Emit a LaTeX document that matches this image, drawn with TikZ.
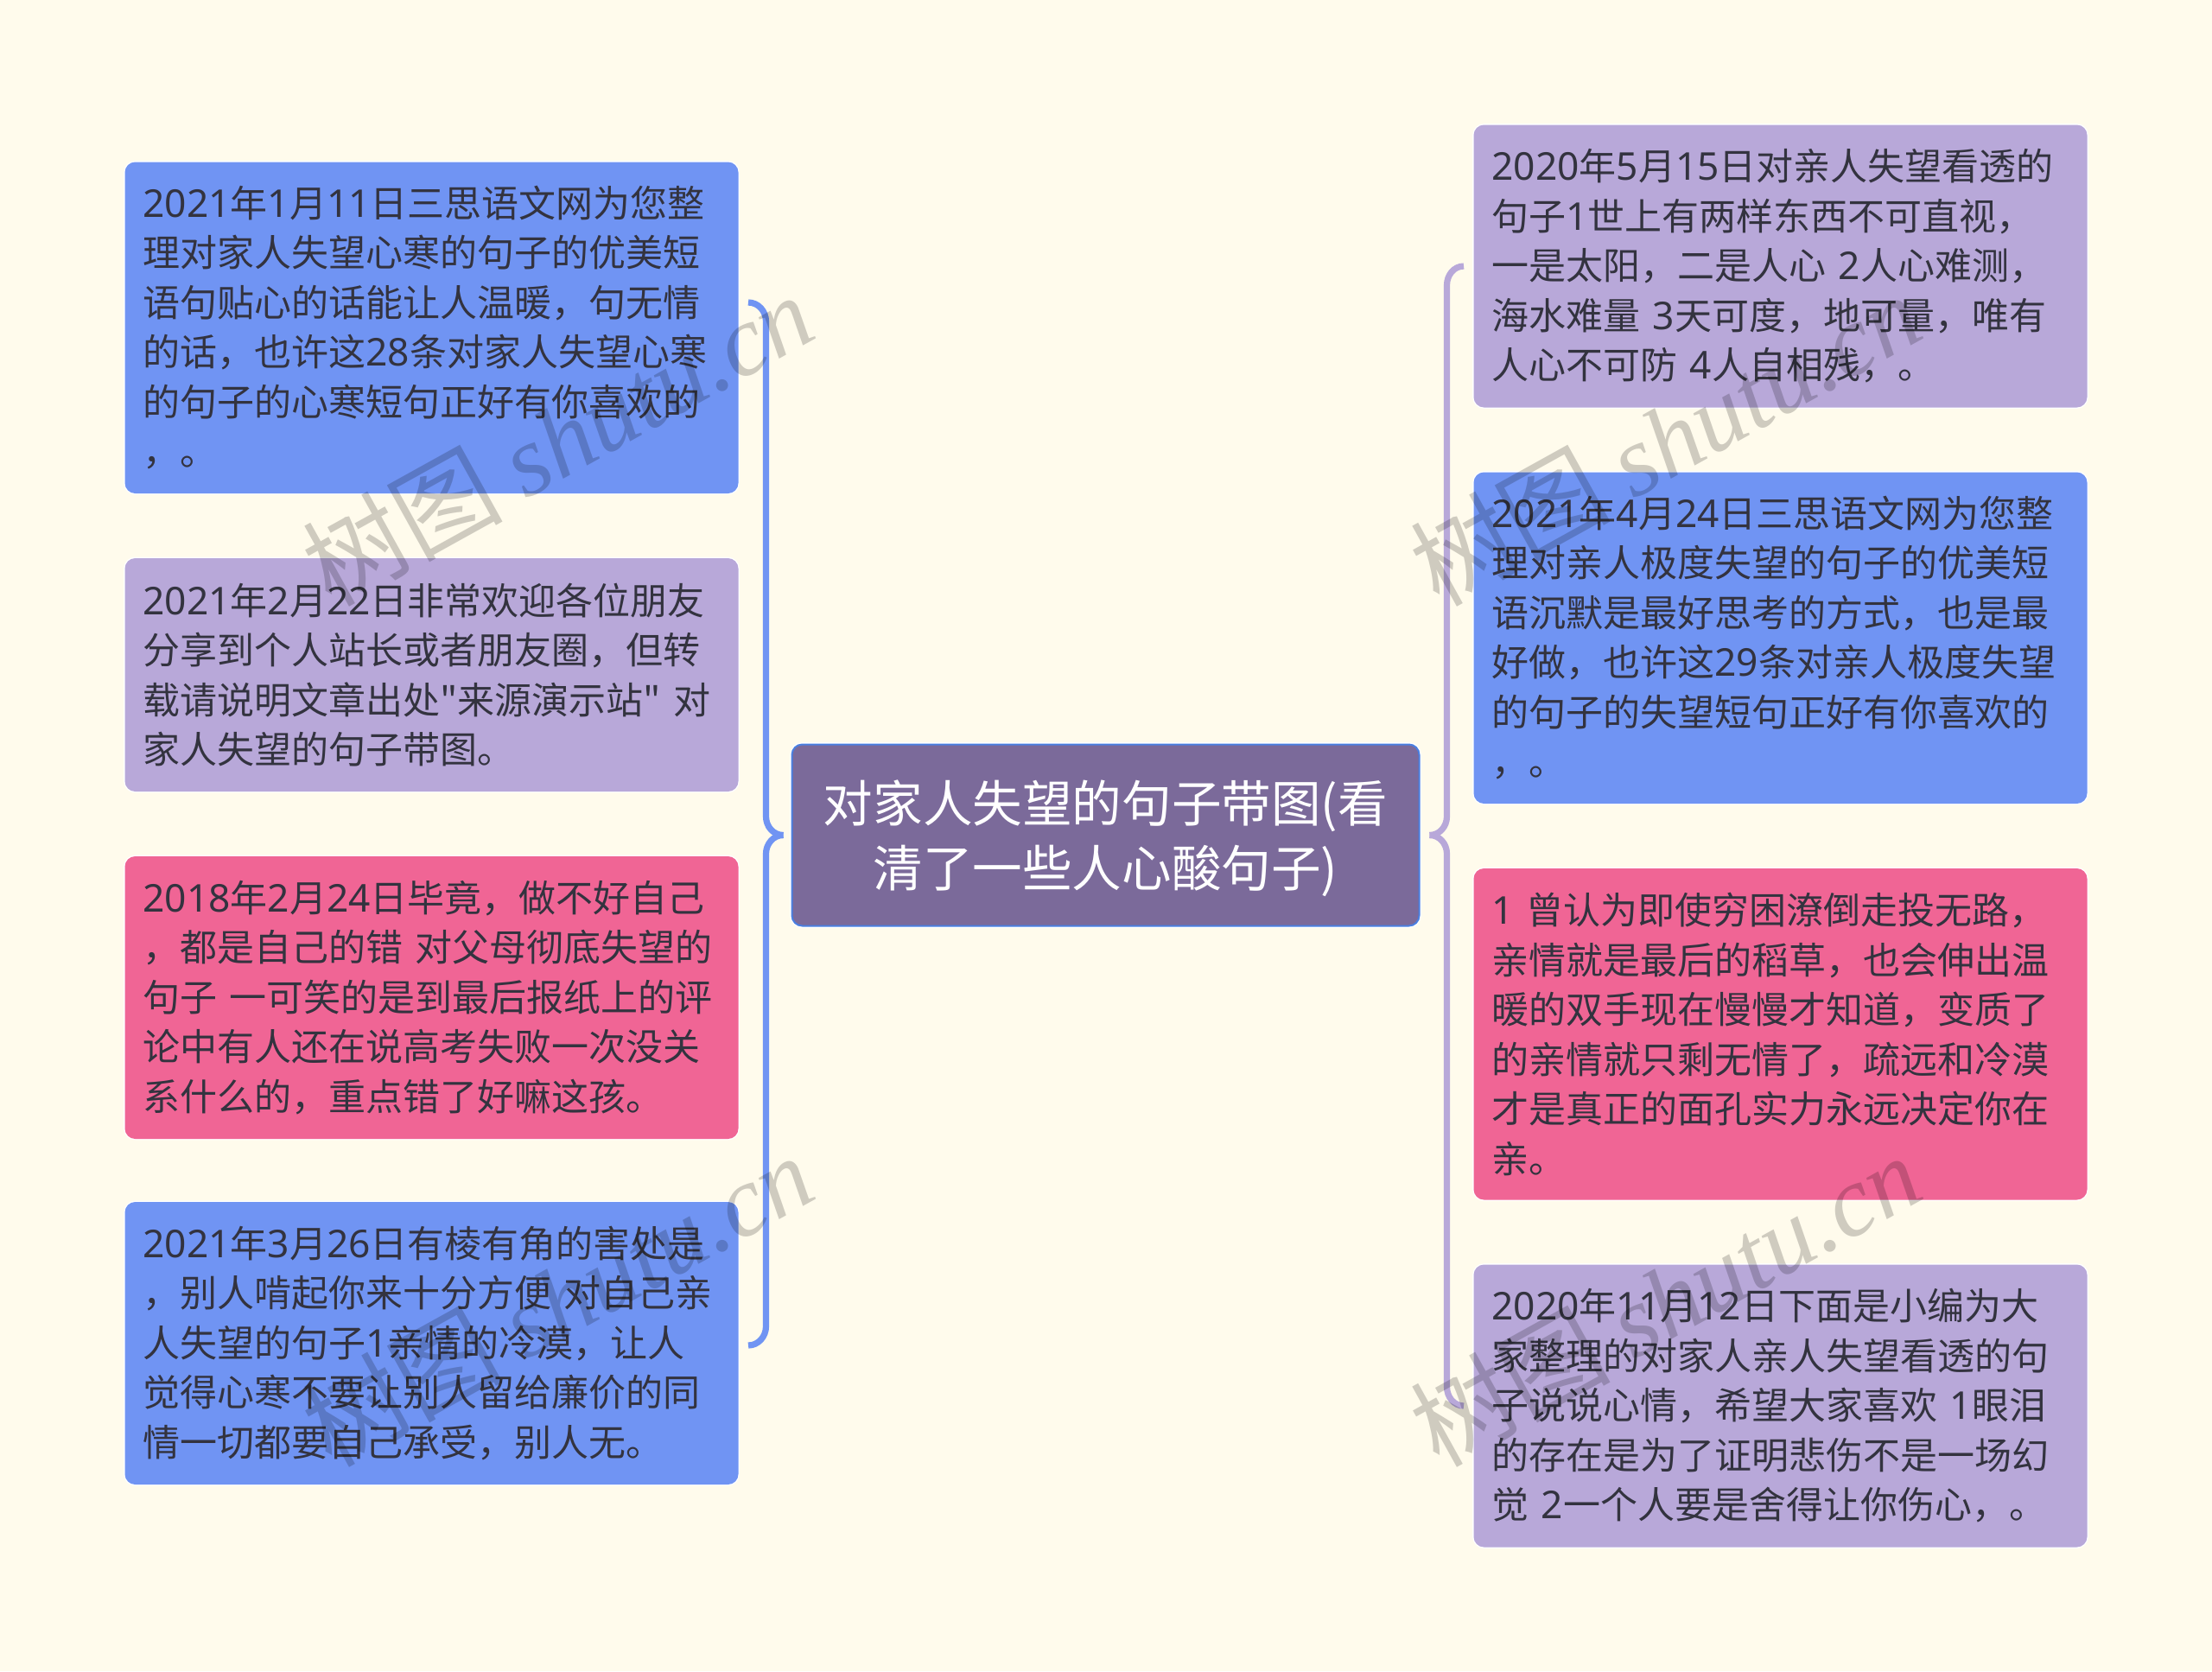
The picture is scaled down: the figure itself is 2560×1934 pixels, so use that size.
\documentclass[tikz,border=0pt]{standalone}
\usepackage{fontspec}
\usepackage{tikz}
\usetikzlibrary{positioning}
\newfontfamily\cardfont{Noto Sans CJK SC}
\newfontfamily\digitfont[Scale=1.03]{Noto Sans}
\newfontfamily\markserif{Liberation Serif}
\newcommand{\dg}[1]{{\digitfont #1}}
\definecolor{pagebg}{HTML}{FFFBEC}
\definecolor{cardblue}{HTML}{7094F3}
\definecolor{cardpurple}{HTML}{B8A8D9}
\definecolor{cardpink}{HTML}{F06595}
\definecolor{rootfill}{HTML}{7B6A9A}
\definecolor{rootedge}{HTML}{4A7FE0}
\definecolor{inkdark}{HTML}{33333F}
\tikzset{
    card/.style={rectangle,rounded corners=6pt,preaction={draw=white,line width=1.4pt},outer sep=0pt,
        minimum width=355pt,text width=334pt,inner xsep=10.5pt,inner ysep=0pt,align=left,
        text=inkdark,font=\cardfont\fontsize{21.5}{28.75}\selectfont},
    sixlines/.style={minimum height=191.75pt},
    fivelines/.style={minimum height=163.5pt},
    fourlines/.style={minimum height=135pt},
    bluecard/.style={card,fill=cardblue},
    purplecard/.style={card,fill=cardpurple},
    pinkcard/.style={card,fill=cardpink},
    rootcard/.style={rectangle,rounded corners=6pt,fill=rootfill,preaction={draw=white,line width=2.4pt},
        draw=rootedge,line width=1pt,outer sep=0pt,
        minimum width=363pt,minimum height=105pt,align=center,text=white,
        font=\cardfont\fontsize{28.8}{37.5}\selectfont},
    bracket/.style={line width=3.6pt},
    markstyle/.style={rotate=29,text=black,text opacity=.19,font=\cardfont\fontsize{58}{58}\selectfont},
}
\begin{document}
\begin{tikzpicture}[x=.5pt,y=-.5pt,node distance=37.5pt]
\fill[pagebg] (0,0) rectangle (2560,1934);
\useasboundingbox (0,0) rectangle (2560,1934);

\node[rootcard] (root) at (1279.5,966.5) {\rule{0pt}{28.5pt}对家人失望的句子带图(看\\清了一些人心酸句子)};

\node[bluecard,sixlines,anchor=north west] (l1) at (144.5,187.5) {\dg{2021}年\dg{1}月\dg{11}日三思语文网为您整\\理对家人失望心寒的句子的优美短\\语句贴心的话能让人温暖，句无情\\的话，也许这\dg{28}条对家人失望心寒\\的句子的心寒短句正好有你喜欢的\\，。};
\node[purplecard,fourlines,below=of l1] (l2) {\dg{2021}年\dg{2}月\dg{22}日非常欢迎各位朋友\\分享到个人站长或者朋友圈，但转\\载请说明文章出处"来源演示站" 对\\家人失望的句子带图。};
\node[pinkcard,fivelines,below=of l2] (l3) {\dg{2018}年\dg{2}月\dg{24}日毕竟，做不好自己\\，都是自己的错 对父母彻底失望的\\句子 一可笑的是到最后报纸上的评\\论中有人还在说高考失败一次没关\\系什么的，重点错了好嘛这孩。};
\node[bluecard,fivelines,below=36.5pt of l3] (l4) {\dg{2021}年\dg{3}月\dg{26}日有棱有角的害处是\\，别人啃起你来十分方便 对自己亲\\人失望的句子\dg{1}亲情的冷漠，让人\\觉得心寒不要让别人留给廉价的同\\情一切都要自己承受，别人无。};

\node[purplecard,fivelines,anchor=north west] (r1) at (1705.5,144.5) {\dg{2020}年\dg{5}月\dg{15}日对亲人失望看透的\\句子\dg{1}世上有两样东西不可直视，\\一是太阳，二是人心 \dg{2}人心难测，\\海水难量 \dg{3}天可度，地可量，唯有\\人心不可防 \dg{4}人自相残，。};
\node[bluecard,sixlines,below=of r1] (r2) {\dg{2021}年\dg{4}月\dg{24}日三思语文网为您整\\理对亲人极度失望的句子的优美短\\语沉默是最好思考的方式，也是最\\好做，也许这\dg{29}条对亲人极度失望\\的句子的失望短句正好有你喜欢的\\，。};
\node[pinkcard,sixlines,below=of r2] (r3) {\dg{1} 曾认为即使穷困潦倒走投无路，\\亲情就是最后的稻草，也会伸出温\\暖的双手现在慢慢才知道，变质了\\的亲情就只剩无情了，疏远和冷漠\\才是真正的面孔实力永远决定你在\\亲。};
\node[purplecard,fivelines,below=of r3] (r4) {\dg{2020}年\dg{11}月\dg{12}日下面是小编为大\\家整理的对家人亲人失望看透的句\\子说说心情，希望大家喜欢 \dg{1}眼泪\\的存在是为了证明悲伤不是一场幻\\觉 \dg{2}一个人要是舍得让你伤心，。};

\coordinate[left=5pt of root] (ltip);
\coordinate[right=6pt of root] (rtip);
\coordinate (ltop) at (866,350);
\coordinate (lbot) at (866,1557);
\coordinate (rtop) at (1694,308);
\coordinate (rbot) at (1694,1627);

\draw[bracket,cardblue] (ltip) to[out=180,in=-90] (886.5,945) -- (886.5,372) to[out=90,in=0] (ltop);
\draw[bracket,cardblue] (ltip) to[out=180,in=90] (886.5,988) -- (886.5,1535) to[out=-90,in=0] (lbot);
\draw[bracket,cardpurple] (rtip) to[out=0,in=-90] (1674.5,945) -- (1674.5,330) to[out=90,in=180] (rtop);
\draw[bracket,cardpurple] (rtip) to[out=0,in=90] (1674.5,988) -- (1674.5,1605) to[out=-90,in=180] (rbot);

\foreach \wname/\wx/\wy in {ma/645/508,mb/1927/508,mc/645/1504,md/1927/1504}
    \node[markstyle] (\wname) at (\wx,\wy) {树图 {\markserif\itshape shutu.cn}};
\end{tikzpicture}
\end{document}
